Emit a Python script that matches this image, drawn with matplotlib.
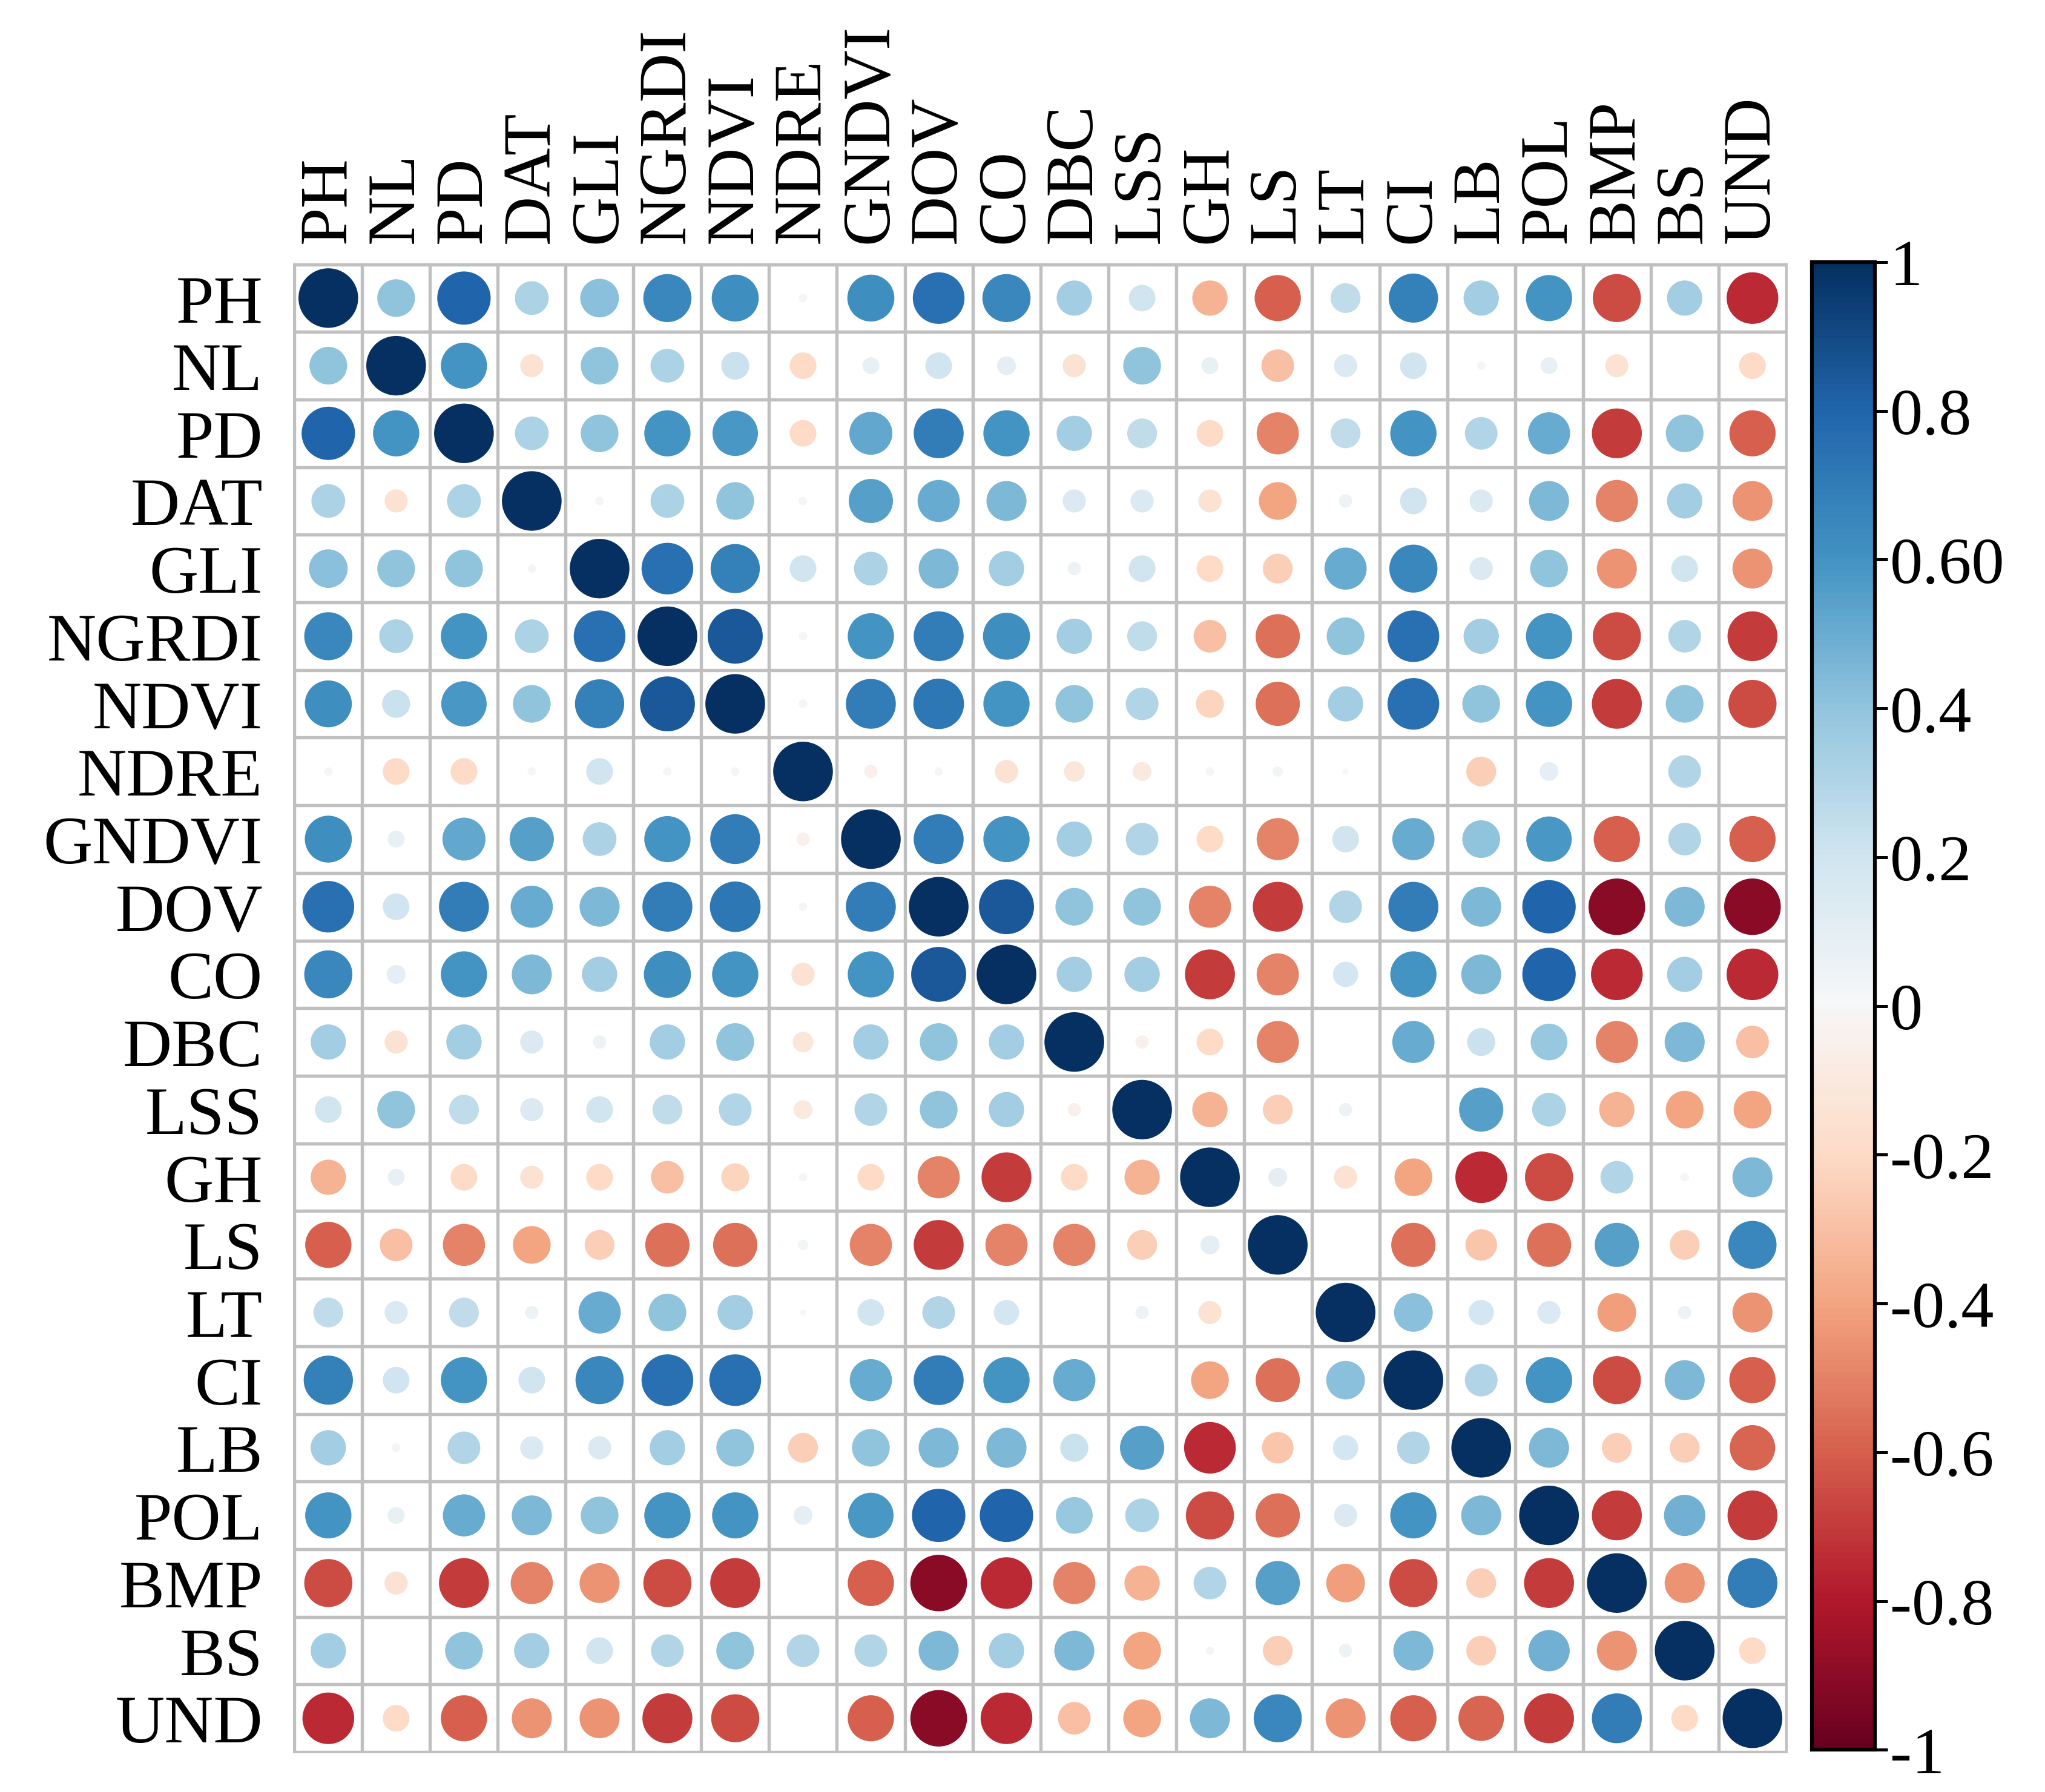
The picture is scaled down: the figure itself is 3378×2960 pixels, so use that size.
import numpy as np
import matplotlib.pyplot as plt
from matplotlib.patches import Circle
from matplotlib.colors import Normalize
from matplotlib.cm import ScalarMappable

plt.rcParams['font.family'] = ['Liberation Serif', 'DejaVu Serif']

labels = ['PH', 'NL', 'PD', 'DAT', 'GLI', 'NGRDI', 'NDVI', 'NDRE', 'GNDVI', 'DOV', 'CO',
          'DBC', 'LSS', 'GH', 'LS', 'LT', 'CI', 'LB', 'POL', 'BMP', 'BS', 'UND']

# lower triangle of the correlation matrix, row by row (values left of the diagonal)
lower = [
    [0.40],
    [0.80, 0.60],
    [0.32, -0.15, 0.32],
    [0.42, 0.40, 0.40, 0.02],
    [0.65, 0.32, 0.60, 0.32, 0.75],
    [0.62, 0.22, 0.58, 0.40, 0.68, 0.85],
    [0.02, -0.20, -0.20, 0.02, 0.20, 0.02, 0.02],
    [0.62, 0.08, 0.52, 0.55, 0.32, 0.60, 0.70, -0.05],
    [0.75, 0.20, 0.70, 0.50, 0.45, 0.70, 0.72, 0.02, 0.70],
    [0.65, 0.10, 0.60, 0.45, 0.35, 0.62, 0.60, -0.15, 0.60, 0.85],
    [0.35, -0.15, 0.35, 0.15, 0.05, 0.35, 0.40, -0.12, 0.35, 0.40, 0.35],
    [0.20, 0.40, 0.25, 0.15, 0.20, 0.25, 0.30, -0.10, 0.30, 0.40, 0.35, -0.05],
    [-0.35, 0.08, -0.20, -0.15, -0.20, -0.30, -0.22, 0.02, -0.20, -0.50, -0.70, -0.20, -0.35],
    [-0.60, -0.30, -0.50, -0.40, -0.25, -0.55, -0.55, 0.03, -0.50, -0.70, -0.50, -0.50, -0.25, 0.10],
    [0.25, 0.15, 0.25, 0.05, 0.50, 0.40, 0.35, 0.01, 0.20, 0.30, 0.18, 0.00, 0.05, -0.15, 0.00],
    [0.68, 0.20, 0.60, 0.20, 0.65, 0.75, 0.75, 0.00, 0.50, 0.70, 0.60, 0.50, 0.00, -0.40, -0.55, 0.42],
    [0.35, 0.02, 0.30, 0.15, 0.15, 0.35, 0.40, -0.25, 0.40, 0.45, 0.45, 0.22, 0.55, -0.75, -0.28, 0.18, 0.30],
    [0.60, 0.08, 0.50, 0.45, 0.40, 0.60, 0.60, 0.10, 0.58, 0.80, 0.80, 0.38, 0.32, -0.65, -0.55, 0.15, 0.60, 0.45],
    [-0.65, -0.15, -0.70, -0.50, -0.45, -0.65, -0.70, 0.00, -0.60, -0.90, -0.75, -0.50, -0.35, 0.30, 0.55, -0.42, -0.65, -0.25, -0.70],
    [0.35, 0.00, 0.40, 0.35, 0.20, 0.30, 0.40, 0.30, 0.30, 0.45, 0.35, 0.45, -0.40, 0.02, -0.25, 0.05, 0.45, -0.25, 0.48, -0.45],
    [-0.75, -0.20, -0.60, -0.45, -0.45, -0.70, -0.65, 0.00, -0.60, -0.90, -0.75, -0.30, -0.40, 0.45, 0.65, -0.45, -0.60, -0.58, -0.70, 0.70, -0.20],
]

cbar_ticks = [-1, -0.8, -0.6, -0.4, -0.2, 0, 0.2, 0.4, 0.6, 0.8, 1]
cbar_labels = ['-1', '-0.8', '-0.6', '-0.4', '-0.2', '0', '0.2', '0.4', '0.60', '0.8', '1']

n = len(labels)
corr = np.eye(n)
for i, row in enumerate(lower, start=1):
    for j, v in enumerate(row):
        corr[i, j] = v
        corr[j, i] = v

cmap = plt.cm.RdBu
norm = Normalize(-1, 1)

fig = plt.figure(figsize=(3378 / 300, 2961 / 300), dpi=300)
ax = fig.add_axes([0.1433, 0.0215, 0.7309, 0.8315])

for i in range(n):
    for j in range(n):
        v = corr[i, j]
        ax.add_patch(Circle((j + 0.5, i + 0.5), 0.44 * np.sqrt(abs(v)),
                            facecolor=cmap(norm(v)), edgecolor='none'))

for k in range(n + 1):
    ax.plot([0, n], [k, k], color='#c0c0c0', lw=1.3, zorder=0)
    ax.plot([k, k], [0, n], color='#c0c0c0', lw=1.3, zorder=0)

ax.set_xlim(-0.02, n + 0.02)
ax.set_ylim(n + 0.02, -0.02)
ax.set_xticks(np.arange(n) + 0.5)
ax.set_xticklabels(labels, rotation=90, fontsize=27)
ax.set_yticks(np.arange(n) + 0.5)
ax.set_yticklabels(labels, fontsize=27)
ax.xaxis.tick_top()
ax.tick_params(axis='x', length=0, pad=8)
ax.tick_params(axis='y', length=0, pad=12)
for s in ax.spines.values():
    s.set_visible(False)

cax = fig.add_axes([0.886, 0.0235, 0.0308, 0.830])
cb = fig.colorbar(ScalarMappable(norm=norm, cmap=cmap), cax=cax, ticks=cbar_ticks)
cb.set_ticklabels(cbar_labels)
cb.ax.tick_params(labelsize=26, length=5, width=1.2, pad=1)
cb.outline.set_linewidth(1.5)
cb.outline.set_edgecolor('black')

fig.savefig('out.png', dpi=300, facecolor='white')
